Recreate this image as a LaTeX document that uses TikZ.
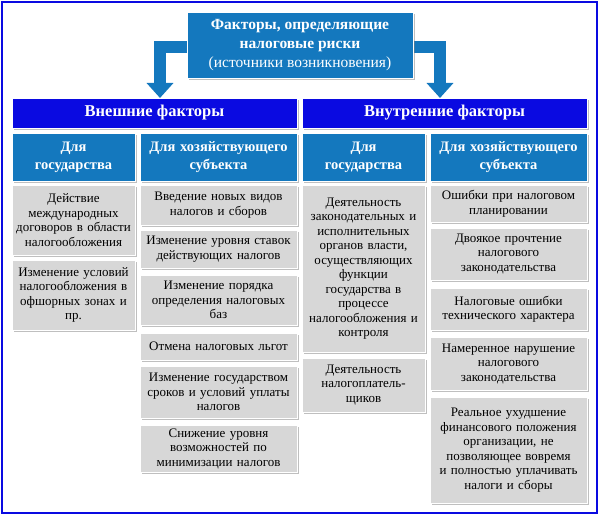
\documentclass[tikz,border=0pt]{standalone}
\usepackage{fontspec}
\setmainfont{Liberation Serif}
\usetikzlibrary{arrows.meta,shadows}
\definecolor{bluebox}{RGB}{20,120,190}
\definecolor{barblue}{RGB}{10,10,225}
\definecolor{graybox}{RGB}{215,215,215}
\tikzset{
    every node/.style={align=center, inner sep=1pt, font=\fontsize{13}{14.5}\selectfont},
    topbox/.style={fill=bluebox, draw=white, text=white, font=\fontsize{15.5}{19}\selectfont\bfseries, drop shadow},
    bar/.style={fill=barblue, draw=white, text=white, font=\fontsize{16.5}{18}\selectfont\bfseries, drop shadow},
    subbox/.style={fill=bluebox, draw=white, text=white, font=\fontsize{14.5}{18}\selectfont\bfseries, drop shadow},
    gbox/.style={fill=graybox, draw=white, text=black, drop shadow},
    bigarrow/.style={bluebox, line width=12pt, -{Triangle[width=26pt,length=15pt]}}
}
\newcommand{\gb}[6]{\node[#1, minimum width=#3pt-#2pt, minimum height=#5pt-#4pt, text width=#3pt-#2pt-2pt] at ({(#2+#3)/2*1pt},{-(#4+#5)/2*1pt}) {#6};}
\begin{document}
\begin{tikzpicture}[x=1pt,y=1pt]
    \useasboundingbox (0,0) rectangle (600,-516);
    \draw[barblue, line width=2.5pt] (2,-2) rectangle (597,-513);
    % arrows
    \coordinate (la) at (190,-47);
    \coordinate (lb) at (160,-47);
    \coordinate (lc) at (160,-98);
    \coordinate (ra) at (410,-47);
    \coordinate (rb) at (440,-47);
    \coordinate (rc) at (440,-98);
    \draw[bigarrow] (la) -- (lb) -- (lc);
    \draw[bigarrow] (ra) -- (rb) -- (rc);
    \node (top) [topbox, minimum width=226pt, minimum height=66pt] at (300,-45) {Факторы, определяющие\\налоговые риски\\{\mdseries(источники возникновения)}};
    % headers
    \node (ext) [bar, minimum width=285pt, minimum height=30pt] at (154.5,-113) {Внешние факторы};
    \node (int) [bar, minimum width=285pt, minimum height=30pt] at (444.5,-113) {Внутренние факторы};
    \gb{subbox}{12}{135}{133}{181}{Для\\государства}
    \gb{subbox}{140}{297}{133}{181}{Для хозяйствующего\\субъекта}
    \gb{subbox}{302}{425}{133}{181}{Для\\государства}
    \gb{subbox}{430}{587}{133}{181}{Для хозяйствующего\\субъекта}
    % column 1
    \gb{gbox}{12}{135}{185}{255}{Действие\\международных\\договоров в области\\налогообложения}
    \gb{gbox}{12}{135}{260}{330}{Изменение условий\\налогообложения в\\офшорных зонах и\\пр.}
    % column 2
    \gb{gbox}{140}{297}{185}{225}{Введение новых видов\\налогов и сборов}
    \gb{gbox}{140}{297}{230}{268}{Изменение уровня ставок\\действующих налогов}
    \gb{gbox}{140}{297}{275}{325}{Изменение порядка\\определения налоговых\\баз}
    \gb{gbox}{140}{297}{333}{360}{Отмена налоговых льгот}
    \gb{gbox}{140}{297}{366}{418}{Изменение государством\\сроков и условий уплаты\\налогов}
    \gb{gbox}{140}{297}{425}{472}{Снижение уровня\\возможностей по\\минимизации налогов}
    % column 3
    \gb{gbox}{302}{425}{185}{352}{Деятельность\\законодательных и\\исполнительных\\органов власти,\\осуществляющих\\функции\\государства в\\процессе\\налогообложения и\\контроля}
    \gb{gbox}{302}{425}{358}{412}{Деятельность\\налогоплатель-\\щиков}
    % column 4
    \gb{gbox}{430}{587}{185}{222}{Ошибки при налоговом\\планировании}
    \gb{gbox}{430}{587}{228}{280}{Двоякое прочтение\\налогового\\законодательства}
    \gb{gbox}{430}{587}{288}{330}{Налоговые ошибки\\технического характера}
    \gb{gbox}{430}{587}{337}{390}{Намеренное нарушение\\налогового\\законодательства}
    \gb{gbox}{430}{587}{397}{503}{Реальное ухудшение\\финансового положения\\организации, не\\позволяющее вовремя\\и полностью уплачивать\\налоги и сборы}
\end{tikzpicture}
\end{document}
